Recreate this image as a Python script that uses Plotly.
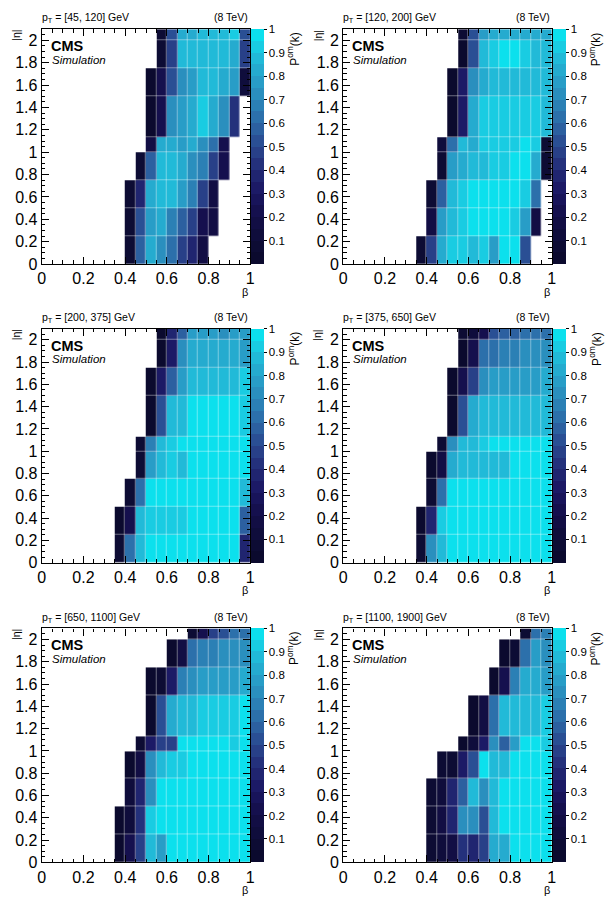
import plotly.graph_objects as go
from plotly.colors import sample_colorscale

# ---------------- data ----------------
BETA_EDGES = [round(0.05 * i, 2) for i in range(21)]
ETA_EDGES = [0, 0.25, 0.5, 0.75, 1.0, 1.13, 1.5, 1.75, 2.0, 2.1]

PT_LABELS = ["[45, 120]", "[120, 200]", "[200, 375]",
             "[375, 650]", "[650, 1100]", "[1100, 1900]"]

# each row (|eta| bin, bottom to top): (index of first filled beta bin, values)
P1 = [
    (8, [0.05, 0.55, 0.80, 0.72, 0.60, 0.47, 0.35, 0.15]),
    (8, [0.05, 0.50, 0.75, 0.80, 0.65, 0.55, 0.45, 0.20, 0.15]),
    (8, [0.05, 0.35, 0.80, 0.88, 0.88, 0.78, 0.65, 0.45, 0.15]),
    (9, [0.05, 0.55, 0.85, 0.88, 0.82, 0.72, 0.65, 0.45, 0.20]),
    (10, [0.15, 0.80, 0.80, 0.78, 0.80, 0.72, 0.60, 0.20]),
    (10, [0.03, 0.20, 0.72, 0.75, 0.80, 0.92, 0.80, 0.70, 0.40]),
    (10, [0.03, 0.20, 0.50, 0.70, 0.75, 0.85, 0.85, 0.82, 0.75, 0.10]),
    (11, [0.05, 0.45, 0.85, 0.88, 0.88, 0.88, 0.88, 0.80, 0.45]),
    (11, [0.08, 0.50, 0.80, 0.82, 0.85, 0.85, 0.88, 0.90, 0.50]),
]
P2 = [
    (7, [0.05, 0.45, 0.82, 0.90, 0.92, 0.85, 0.90, 0.78, 0.95, 0.95, 0.50]),
    (8, [0.15, 0.75, 0.88, 0.92, 0.95, 0.95, 0.95, 0.95, 0.90, 0.75, 0.15]),
    (8, [0.05, 0.55, 0.88, 0.92, 0.97, 0.97, 0.98, 0.98, 0.95, 0.92, 0.60]),
    (9, [0.05, 0.75, 0.82, 0.85, 0.88, 0.90, 0.92, 0.97, 0.95, 0.80, 0.05]),
    (9, [0.10, 0.60, 0.85, 0.82, 0.90, 0.90, 0.92, 0.92, 0.95, 0.90, 0.08]),
    (10, [0.03, 0.30, 0.80, 0.90, 0.92, 0.92, 0.92, 0.92, 0.90, 0.88]),
    (10, [0.03, 0.30, 0.70, 0.80, 0.85, 0.85, 0.85, 0.85, 0.88, 0.85]),
    (11, [0.03, 0.50, 0.88, 0.90, 0.95, 0.95, 0.92, 0.88, 0.85]),
    (11, [0.05, 0.50, 0.75, 0.80, 0.82, 0.82, 0.80, 0.82, 0.80]),
]
P3 = [
    (7, [0.05, 0.60, 0.88, 0.95, 0.95, 0.95, 0.95, 0.97, 0.98, 0.98, 0.98, 0.98, 0.35]),
    (7, [0.03, 0.20, 0.85, 0.92, 0.92, 0.92, 0.93, 0.97, 0.98, 0.98, 0.98, 0.98, 0.55]),
    (8, [0.05, 0.60, 0.98, 0.98, 0.98, 0.98, 0.98, 0.98, 0.98, 0.98, 0.98, 0.85]),
    (9, [0.05, 0.75, 0.88, 0.90, 0.88, 0.95, 0.97, 0.97, 0.97, 0.97, 0.97]),
    (9, [0.05, 0.65, 0.88, 0.90, 0.95, 0.95, 0.97, 0.97, 0.97, 0.97, 0.97]),
    (10, [0.03, 0.50, 0.85, 0.88, 0.95, 0.95, 0.95, 0.95, 0.95, 0.93]),
    (10, [0.03, 0.30, 0.55, 0.78, 0.85, 0.88, 0.88, 0.88, 0.88, 0.90]),
    (11, [0.03, 0.30, 0.70, 0.80, 0.80, 0.80, 0.80, 0.80, 0.78]),
    (11, [0.03, 0.35, 0.55, 0.75, 0.78, 0.78, 0.72, 0.75, 0.75]),
]
P4 = [
    (7, [0.05, 0.70, 0.88, 0.97, 0.98, 0.98, 0.98, 0.98, 0.98, 0.98, 0.98, 0.98, 0.98]),
    (7, [0.03, 0.35, 0.90, 0.95, 0.95, 0.95, 0.95, 0.98, 0.98, 0.98, 0.98, 0.98, 0.98]),
    (8, [0.08, 0.60, 0.98, 0.98, 0.98, 0.98, 0.98, 0.98, 0.98, 0.98, 0.98, 0.98]),
    (8, [0.03, 0.15, 0.80, 0.85, 0.85, 0.85, 0.88, 0.88, 0.98, 0.98, 0.98, 0.98]),
    (9, [0.05, 0.70, 0.85, 0.85, 0.92, 0.95, 0.98, 0.98, 0.98, 0.98, 0.98]),
    (10, [0.03, 0.50, 0.80, 0.85, 0.88, 0.88, 0.88, 0.88, 0.88, 0.88]),
    (10, [0.03, 0.20, 0.45, 0.70, 0.75, 0.78, 0.78, 0.78, 0.78, 0.80]),
    (11, [0.03, 0.20, 0.60, 0.62, 0.65, 0.65, 0.70, 0.70, 0.70]),
    (11, [0.05, 0.10, 0.20, 0.50, 0.55, 0.55, 0.60, 0.60, 0.60]),
]
P5 = [
    (7, [0.03, 0.20, 0.45, 0.88, 0.75, 0.98, 0.98, 0.98, 0.98, 0.98, 0.98, 0.98, 0.98]),
    (7, [0.03, 0.12, 0.40, 0.92, 0.95, 0.95, 0.95, 0.95, 0.98, 0.98, 0.98, 0.98, 0.98]),
    (8, [0.10, 0.35, 0.70, 0.98, 0.98, 0.98, 0.98, 0.98, 0.98, 0.98, 0.98, 0.98]),
    (8, [0.03, 0.15, 0.72, 0.85, 0.90, 0.90, 0.95, 0.97, 0.97, 0.97, 0.97, 0.97]),
    (9, [0.05, 0.30, 0.45, 0.45, 0.97, 0.97, 0.97, 0.97, 0.97, 0.92, 0.95]),
    (10, [0.03, 0.50, 0.82, 0.85, 0.88, 0.90, 0.92, 0.92, 0.90, 0.95]),
    (10, [0.03, 0.08, 0.30, 0.65, 0.72, 0.75, 0.75, 0.78, 0.78, 0.80]),
    (12, [0.03, 0.15, 0.60, 0.65, 0.65, 0.70, 0.70, 0.72]),
    (14, [0.05, 0.20, 0.45, 0.50, 0.60, 0.60]),
]
P6 = [
    (8, [0.05, 0.12, 0.15, 0.40, 0.35, 0.45, 0.80, 0.80, 0.98, 0.98, 0.98, 0.98]),
    (8, [0.05, 0.15, 0.35, 0.70, 0.70, 0.50, 0.85, 0.97, 0.98, 0.98, 0.98, 0.98]),
    (8, [0.05, 0.10, 0.35, 0.55, 0.85, 0.70, 0.88, 0.98, 0.98, 0.98, 0.98, 0.98]),
    (9, [0.05, 0.08, 0.30, 0.50, 0.98, 0.85, 0.85, 0.95, 0.98, 0.98, 0.98]),
    (11, [0.03, 0.10, 0.30, 0.70, 0.55, 0.75, 0.95, 0.95, 0.92]),
    (12, [0.03, 0.15, 0.60, 0.88, 0.88, 0.88, 0.85, 0.90]),
    (14, [0.03, 0.20, 0.65, 0.80, 0.80, 0.78]),
    (15, [0.03, 0.08, 0.60, 0.75, 0.70]),
    (17, [0.05, 0.60, 0.65]),
]
PANELS = [P1, P2, P3, P4, P5, P6]

CB_TICKS = [0.1, 0.2, 0.3, 0.4, 0.5, 0.6, 0.7, 0.8, 0.9, 1]

# ---------------- style ----------------
W, H = 612, 909
FONT = "Liberation Sans, Arial, sans-serif"
BASE_SCALE = [
    [0.00, "#0a0a2a"], [0.10, "#0e0c38"], [0.20, "#130f48"],
    [0.30, "#1a1560"], [0.40, "#222a76"], [0.50, "#2a478e"],
    [0.60, "#2c68a6"], [0.70, "#2b88ba"], [0.80, "#27a4cb"],
    [0.90, "#1fc2dd"], [1.00, "#06eaf2"],
]
N_BANDS = 20
COLORSCALE = []
for i in range(N_BANDS):
    col = sample_colorscale(BASE_SCALE, [(i + 0.5) / N_BANDS])[0]
    COLORSCALE.append([i / N_BANDS, col])
    COLORSCALE.append([(i + 1) / N_BANDS, col])

COL_X = [(38.3, 250.0), (344.3, 556.0)]
ROW_Y = [(29.5, 266.7), (332.0, 568.3), (634.7, 871.0)]


def expand(rows):
    z = []
    for start, vals in rows:
        line = [None] * (len(BETA_EDGES) - 1)
        for i, v in enumerate(vals):
            line[start + i] = v
        z.append(line)
    return z


fig = go.Figure()
annotations = []
for k, rows in enumerate(PANELS):
    r, c = divmod(k, 2)
    x0, x1 = COL_X[c]
    y0, y1 = ROW_Y[r]
    ax = "" if k == 0 else str(k + 1)
    dom_x = [x0 / W, x1 / W]
    dom_y = [1 - y1 / H, 1 - y0 / H]
    fig.add_trace(go.Heatmap(
        x=BETA_EDGES, y=ETA_EDGES, z=expand(rows),
        zmin=0, zmax=1, colorscale=COLORSCALE,
        xgap=0.4, ygap=0.4,
        xaxis="x" + ax, yaxis="y" + ax, hoverongaps=False,
        colorbar=dict(
            x=(x1 + 1) / W, xanchor="left", y=dom_y[0], yanchor="bottom",
            len=dom_y[1] - dom_y[0], lenmode="fraction",
            thickness=13, thicknessmode="pixels", xpad=0, ypad=0,
            outlinewidth=0, tickvals=CB_TICKS, ticks="outside", ticklen=3,
            tickcolor="black", tickfont=dict(family=FONT, size=11.5, color="black"),
        ),
    ))
    axis_common = dict(
        showline=True, linecolor="black", linewidth=1.3, mirror="ticks",
        ticks="inside", ticklen=7, tickwidth=1, tickcolor="black",
        showgrid=False, zeroline=False,
        tickfont=dict(family=FONT, size=16, color="black"),
        minor=dict(ticks="inside", ticklen=3.5, dtick=0.05, tickcolor="black", showgrid=False),
    )
    fig.layout["xaxis" + ax] = dict(
        domain=dom_x, anchor="y" + ax, range=[0, 1], dtick=0.2, tick0=0,
        **axis_common)
    fig.layout["yaxis" + ax] = dict(
        domain=dom_y, anchor="x" + ax, range=[0, 2.1], dtick=0.2, tick0=0,
        **axis_common)

    def ann(text, px, py, size, xanchor="left", yanchor="middle", angle=0):
        annotations.append(dict(
            text=text, x=px / W, y=1 - py / H, xref="paper", yref="paper",
            xanchor=xanchor, yanchor=yanchor, showarrow=False, textangle=angle,
            font=dict(family=FONT, size=size, color="black")))

    ann("p<sub>T</sub> = " + PT_LABELS[k] + " GeV", x0 - 2, y0 - 11, 10.5)
    ann("(8 TeV)", x1, y0 - 12, 10.5, xanchor="right")
    ann("|η|", x0 - 26, y0 - 1, 10.5, xanchor="center", yanchor="top", angle=-90)
    ann("β", x1 - 5, y1 + 28, 11, xanchor="center")
    ann("<b>CMS</b>", x0 + 7, y0 + 17, 14.5)
    ann("<i>Simulation</i>", x0 + 8, y0 + 31, 11.5)
    ann("P<sup>om</sup>(k)", x1 + 44, y0 + 1, 12, xanchor="center", yanchor="top", angle=-90)

fig.update_layout(
    width=W, height=H, margin=dict(l=0, r=0, t=0, b=0),
    paper_bgcolor="white", plot_bgcolor="white",
    annotations=annotations, showlegend=False,
    font=dict(family=FONT, color="black"),
)
fig.write_html("out.html")
